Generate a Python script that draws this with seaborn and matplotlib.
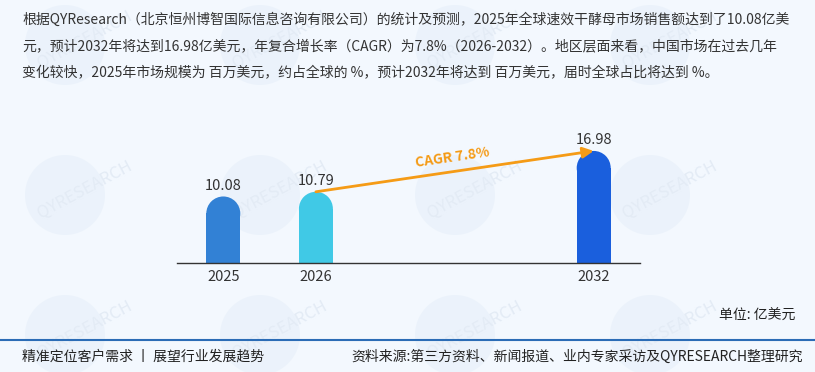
import matplotlib
matplotlib.use("Agg")
import matplotlib.pyplot as plt
import seaborn as sns
import pandas as pd
import numpy as np
from matplotlib.patches import Ellipse
from matplotlib.lines import Line2D

# ---- data ----
years = ["2025", "2026", "2032"]
values = [10.08, 10.79, 16.98]
slot_order = ["2025", "2026", " ", "  ", "2032"]
bar_colors = {"2025": "#3281d5", "2026": "#40c9e6", "2032": "#1a5fdd"}
cagr_label = "CAGR 7.8%"
para_lines = [
    "根据QYResearch（北京恒州博智国际信息咨询有限公司）的统计及预测，2025年全球速效干酵母市场销售额达到了10.08亿美",
    "元，预计2032年将达到16.98亿美元，年复合增长率（CAGR）为7.8%（2026-2032）。地区层面来看，中国市场在过去几年",
    "变化较快，2025年市场规模为 百万美元，约占全球的 %，预计2032年将达到 百万美元，届时全球占比将达到 %。",
]
unit_label = "单位: 亿美元"
footer_left = "精准定位客户需求 丨 展望行业发展趋势"
footer_right = "资料来源:第三方资料、新闻报道、业内专家采访及QYRESEARCH整理研究"
watermark = "QYRESEARCH"

sns.set_theme(style="white")
plt.rcParams["font.family"] = ["Noto Sans CJK SC", "DejaVu Sans"]

W, H = 815, 372
BG = "#f3f8fe"
fig = plt.figure(figsize=(W / 100, H / 100), dpi=100, facecolor=BG)

# faint watermarks (decorative background)
for cy in [45, 195, 335]:
    for cx in [65, 260, 455, 650]:
        fig.add_artist(Ellipse((cx / W, 1 - cy / H), 80 / W, 80 / H,
                               transform=fig.transFigure, color="#e6eff9",
                               alpha=0.6, lw=0, zorder=-5))
        fig.text((cx + 20) / W, 1 - (cy - 5) / H, watermark, rotation=28,
                 ha="center", va="center", fontsize=12, color="#e3ebf5",
                 style="italic", zorder=-4)

ax = fig.add_axes([177 / W, 1 - 263 / H, (640 - 177) / W, 132 / H])
ax.set_facecolor("none")
ax.set_zorder(2)

df = pd.DataFrame({"year": years, "value": values})
sns.barplot(data=df, x="year", y="value", order=slot_order, hue="year",
            palette=bar_colors, width=0.367, dodge=False, legend=False,
            saturation=1, ax=ax)
ax.set_xlim(-0.5, 4.5)
ax.set_ylim(0, 20)

# rounded tops
fig.canvas.draw()
px_x = ax.transData.transform((1, 0))[0] - ax.transData.transform((0, 0))[0]
px_y = ax.transData.transform((0, 1))[1] - ax.transData.transform((0, 0))[1]
for p in list(ax.patches):
    h = p.get_height()
    if not np.isfinite(h) or h <= 0:
        continue
    w = p.get_width()
    x0 = p.get_x()
    ry = (w * px_x / 2) / px_y
    p.set_height(h - ry)
    p.set_linewidth(0)
    ax.add_patch(Ellipse((x0 + w / 2, h - ry), w, 2 * ry,
                         color=p.get_facecolor(), lw=0, zorder=p.get_zorder()))

# value labels
pos = {c: i for i, c in enumerate(slot_order)}
for y, v in zip(years, values):
    ax.annotate(f"{v:.2f}", (pos[y], v), xytext=(0, 5), textcoords="offset points",
                ha="center", va="baseline", fontsize=10.5, color="#333333")

# CAGR arrow
ax.annotate("", xy=(pos["2032"], values[2]), xytext=(pos["2026"], values[1]),
            arrowprops=dict(arrowstyle="-|>", color="#f59b16", lw=2,
                            mutation_scale=16, shrinkA=0, shrinkB=0))
ang = np.degrees(np.arctan2((values[2] - values[1]) * px_y,
                            (pos["2032"] - pos["2026"]) * px_x))
ax.text(2.48, 15.9, cagr_label, rotation=ang, ha="center", va="center",
        fontsize=10, fontweight="bold", color="#f59b16", rotation_mode="anchor")

for s in ["top", "right", "left"]:
    ax.spines[s].set_visible(False)
ax.spines["bottom"].set_color("#333333")
ax.spines["bottom"].set_linewidth(1)
ax.set_xlabel("")
ax.set_ylabel("")
ax.set_yticks([])
ax.tick_params(axis="x", length=0, pad=5, labelsize=10.5, labelcolor="#333333")

# paragraph
for i, line in enumerate(para_lines):
    fig.text(22 / W, 1 - (20 + i * 26.5) / H, line, ha="left", va="center",
             fontsize=10, color="#333333", zorder=3)

fig.text(795 / W, 1 - 316 / H, unit_label, ha="right", va="center",
         fontsize=10, color="#222222", zorder=3)
fig.add_artist(Line2D([0, 1], [1 - 340 / H] * 2, transform=fig.transFigure,
                      color="#2b6cb6", lw=1.5, zorder=3))
fig.text(22 / W, 1 - 357 / H, footer_left, ha="left", va="center",
         fontsize=10, color="#222222", zorder=3)
fig.text(803 / W, 1 - 357 / H, footer_right, ha="right", va="center",
         fontsize=10, color="#222222", zorder=3)

fig.savefig("out.png", dpi=100, facecolor=BG)
